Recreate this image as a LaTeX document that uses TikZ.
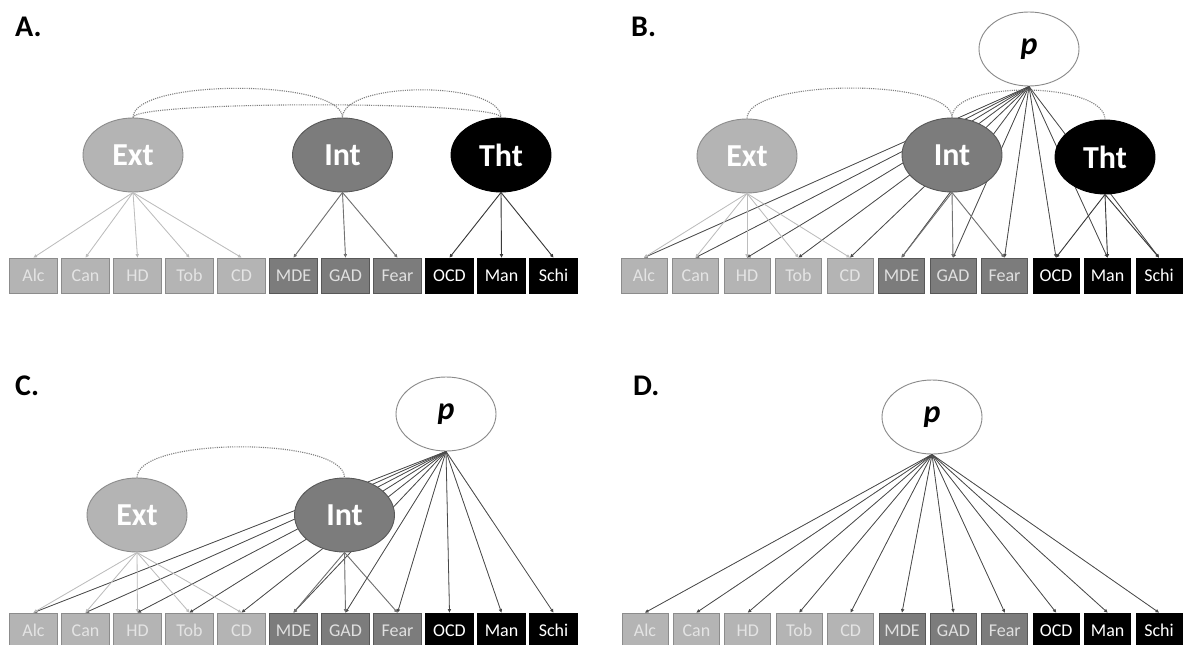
\documentclass[tikz,border=0pt]{standalone}
\usepackage{fontspec}
\setmainfont{Carlito}
\usetikzlibrary{shapes.geometric,arrows.meta}
\definecolor{extF}{HTML}{B4B4B4}
\definecolor{extD}{HTML}{8C8C8C}
\definecolor{extT}{HTML}{E4E4E4}
\definecolor{intF}{HTML}{7C7C7C}
\definecolor{intD}{HTML}{585858}
\definecolor{intT}{HTML}{E0E0E0}
\definecolor{pD}{HTML}{8A8A8A}
\definecolor{extE}{HTML}{BDBDBD}
\definecolor{intE}{HTML}{727272}
\definecolor{thtE}{HTML}{3A3A3A}
\definecolor{pE}{HTML}{4A4A4A}
\definecolor{corC}{HTML}{7E7E7E}
\newcommand\obsrow[5]{%
  \foreach \n/\s [count=\i from 0] in {Alc/extO,Can/extO,HD/extO,Tob/extO,CD/extO,MDE/intO,GAD/intO,Fear/intO,OCD/thtO,Man/thtO,Schi/thtO}
    \node[\s, minimum width=#5] (#1\n) at ({#2+#3*\i},#4) {\n};%
}
\tikzset{
  lat/.style={ellipse, minimum width=100pt, minimum height=74pt, inner sep=0pt, line width=0.9pt,
              font=\fontsize{32}{32}\selectfont\bfseries},
  extL/.style={lat, fill=extF, draw=extD, text=white},
  intL/.style={lat, fill=intF, draw=intD, text=white},
  thtL/.style={lat, fill=black, draw=black, text=white},
  pL/.style={lat, fill=white, draw=pD, text=black, font=\fontsize{32}{32}\selectfont\bfseries\itshape},
  obs/.style={rectangle, minimum height=35pt, inner sep=0pt, line width=0.8pt,
              font=\fontsize{18}{18}\selectfont},
  extO/.style={obs, fill=extF, draw=extD, text=extT},
  intO/.style={obs, fill=intF, draw=intD, text=intT},
  thtO/.style={obs, fill=black, draw=black, text=white},
  tipd/.style={-{Triangle[length=3.5pt,width=3.2pt]}},
  extEd/.style={tipd, draw=extE, fill=extE, line width=0.8pt},
  intEd/.style={tipd, draw=intE, fill=intE, line width=0.9pt},
  thtEd/.style={tipd, draw=thtE, fill=thtE, line width=0.9pt},
  pEd/.style={tipd, draw=pE, fill=pE, line width=0.8pt},
  cor/.style={draw=corC, line width=1.1pt, dash pattern=on 1.1pt off 1.1pt},
  panel/.style={inner sep=0pt, anchor=base west, font=\fontsize{30}{30}\selectfont\bfseries}
}
\begin{document}
\begin{tikzpicture}[x=1pt,y=-1pt]
\useasboundingbox[fill=white] (0,0) rectangle (1183,645);

% ---------------- Panel A ----------------
\node[panel] (labA) at (15,36) {A.};
\node[extL] (AExt) at (133,155) {Ext};
\node[intL] (AInt) at (342.5,155) {Int};
\node[thtL] (ATht) at (501,155) {Tht};
\obsrow{A}{33.5}{52}{275.5}{47.5pt}
\foreach \n in {Alc,Can,HD,Tob,CD} \draw[extEd] (AExt.south) -- (A\n.north);
\foreach \n in {MDE,GAD,Fear} \draw[intEd] (AInt.south) -- (A\n.north);
\foreach \n in {OCD,Man,Schi} \draw[thtEd] (ATht.south) -- (A\n.north);
\draw[cor] (AExt.north) .. controls +(0,-39) and +(0,-39) .. (AInt.north);
\draw[cor] (AInt.north) .. controls +(0,-37) and +(0,-37) .. (ATht.north);
\draw[cor] (AExt.north) .. controls +(0,-17) and +(0,-17) .. (ATht.north);

% ---------------- Panel B ----------------
\node[panel] (labB) at (631,36) {B.};
\node[pL] (Bp) at (1029,49) {p};
\obsrow{B}{644}{51.5}{275.5}{46pt}
\foreach \n in {Alc,Can,HD,Tob,CD,MDE,GAD,Fear,OCD,Man,Schi} \draw[pEd] (Bp.south) -- (B\n.north);
\node[extL] (BExt) at (747,156) {Ext};
\node[intL] (BInt) at (952,155) {Int};
\node[thtL] (BTht) at (1105,157) {Tht};
\foreach \n in {Alc,Can,HD,Tob,CD} \draw[extEd] (BExt.south) -- (B\n.north);
\foreach \n in {MDE,GAD,Fear} \draw[intEd] (BInt.south) -- (B\n.north);
\foreach \n in {OCD,Man,Schi} \draw[thtEd] (BTht.south) -- (B\n.north);
\draw[cor] (BExt.north) .. controls +(0,-40) and +(0,-40) .. (BInt.north);
\draw[cor] (BInt.north) .. controls +(0,-38) and +(0,-38) .. (BTht.north);

% ---------------- Panel C ----------------
\node[panel] (labC) at (15,395) {C.};
\node[pL] (Cp) at (446,414) {p};
\obsrow{C}{33.5}{52}{630.5}{47.5pt}
\foreach \n in {Alc,Can,HD,Tob,CD,MDE,GAD,Fear,OCD,Man,Schi} \draw[pEd] (Cp.south) -- (C\n.north);
\node[extL] (CExt) at (137,515) {Ext};
\node[intL] (CInt) at (344.5,515) {Int};
\foreach \n in {Alc,Can,HD,Tob,CD} \draw[extEd] (CExt.south) -- (C\n.north);
\foreach \n in {MDE,GAD,Fear} \draw[intEd] (CInt.south) -- (C\n.north);
\draw[cor] (CExt.north) .. controls +(0,-41) and +(0,-41) .. (CInt.north);

% ---------------- Panel D ----------------
\node[panel] (labD) at (633,395) {D.};
\node[pL] (Dp) at (932,417) {p};
\obsrow{D}{645}{51.4}{630.5}{46pt}
\foreach \n in {Alc,Can,HD,Tob,CD,MDE,GAD,Fear,OCD,Man,Schi} \draw[pEd] (Dp.south) -- (D\n.north);
\end{tikzpicture}
\end{document}
